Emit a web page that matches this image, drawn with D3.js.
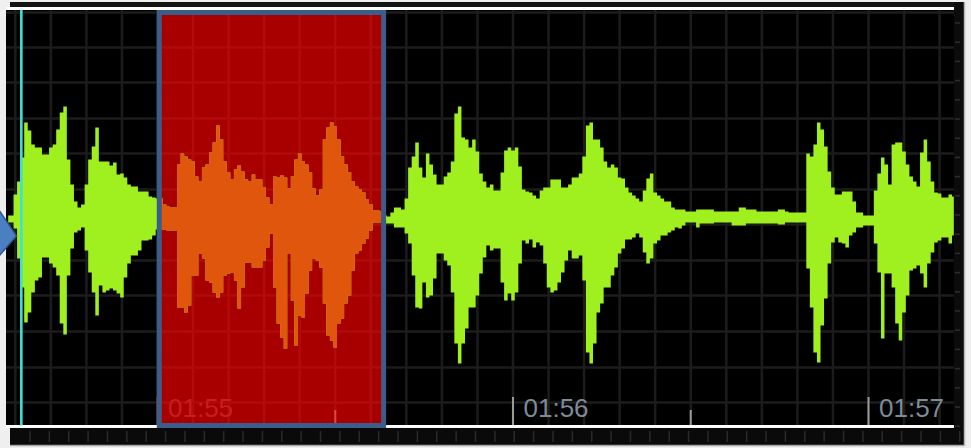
<!DOCTYPE html>
<html>
<head>
<meta charset="utf-8">
<script src="https://cdn.jsdelivr.net/npm/d3@7"></script>
<style>
  html, body { margin: 0; padding: 0; background: #efefef; overflow: hidden; }
</style>
</head>
<body>
<svg id="wave" width="971" height="448"></svg>
<script>
// waveform peaks, one pair every 10 ms starting at 01:54.58
const sampleStart = 114.58;
const sampleStep = 0.01;
const peakTop = [
  2, 2, 23, 36, 60, 95, 87, 73, 70, 70,
  63, 63, 70, 73, 88, 105, 111, 58, 33, 16,
  10, 13, 33, 58, 71, 90, 56, 56, 56, 52,
  55, 43, 44, 40, 33, 31, 31, 26, 26, 26,
  21, 20, 19, 19, 13, 11, 10, 10, 53, 64,
  61, 58, 56, 41, 36, 50, 53, 65, 75, 92,
  78, 56, 45, 38, 48, 52, 46, 38, 36, 43,
  38, 38, 30, 20, 13, 41, 40, 42, 40, 29,
  41, 58, 64, 56, 53, 45, 29, 22, 28, 78,
  90, 95, 91, 78, 61, 53, 45, 36, 31, 28,
  25, 18, 13, 7, 7, 6, 2, 1, 5, 10,
  10, 8, 19, 50, 61, 75, 50, 40, 64, 53,
  43, 33, 33, 41, 45, 56, 104, 111, 80, 78,
  70, 78, 66, 44, 36, 30, 33, 27, 27, 45,
  67, 70, 67, 70, 51, 28, 26, 25, 22, 19,
  27, 30, 30, 38, 38, 38, 30, 30, 33, 40,
  40, 44, 61, 92, 95, 78, 78, 70, 56, 50,
  53, 50, 40, 39, 30, 25, 22, 19, 16, 27,
  39, 44, 25, 22, 19, 16, 16, 10, 8, 8,
  8, 6, 6, 6, 8, 8, 8, 8, 8, 6,
  6, 6, 6, 6, 6, 6, 10, 10, 8, 8,
  8, 6, 6, 6, 6, 6, 6, 8, 8, 6,
  5, 5, 5, 5, 5, 64, 61, 73, 95, 88,
  71, 46, 30, 23, 23, 26, 26, 26, 16, 5,
  5, 2, 2, 2, 27, 44, 60, 53, 33, 73,
  75, 75, 66, 53, 41, 36, 31, 65, 78, 56,
  36, 25, 24, 20, 20, 23, 21
];
const peakBottom = [
  -5, -5, -11, -41, -70, -105, -95, -75, -63, -60,
  -40, -40, -46, -50, -58, -106, -117, -58, -31, -15,
  -13, -10, -33, -55, -75, -98, -68, -75, -73, -71,
  -73, -76, -80, -60, -46, -38, -38, -33, -23, -23,
  -22, -18, -12, -12, -12, -13, -13, -13, -90, -90,
  -95, -88, -58, -58, -36, -41, -63, -65, -75, -80,
  -75, -58, -56, -55, -63, -91, -70, -45, -45, -50,
  -50, -50, -43, -30, -16, -70, -106, -120, -131, -36,
  -83, -128, -98, -100, -76, -53, -41, -43, -50, -86,
  -118, -123, -130, -106, -101, -86, -78, -53, -36, -33,
  -26, -21, -13, -5, -5, -5, -6, -6, -6, -10,
  -10, -10, -16, -26, -58, -90, -91, -65, -80, -78,
  -61, -36, -36, -43, -48, -75, -126, -146, -126, -111,
  -90, -90, -78, -56, -40, -28, -33, -31, -31, -65,
  -83, -76, -83, -75, -46, -23, -26, -22, -30, -25,
  -28, -46, -70, -75, -73, -65, -55, -43, -33, -41,
  -41, -38, -63, -135, -146, -126, -95, -86, -70, -70,
  -58, -50, -36, -31, -22, -22, -20, -16, -20, -35,
  -46, -41, -26, -23, -18, -18, -15, -13, -10, -11,
  -8, -5, -5, -5, -10, -6, -6, -6, -6, -5,
  -5, -5, -5, -5, -8, -8, -8, -8, -6, -6,
  -6, -6, -6, -6, -6, -6, -6, -7, -7, -5,
  -5, -5, -5, -5, -5, -51, -90, -135, -145, -108,
  -81, -46, -25, -20, -25, -26, -30, -18, -15, -10,
  -10, -8, -8, -8, -26, -55, -121, -56, -56, -70,
  -106, -123, -95, -78, -53, -51, -48, -56, -70, -46,
  -35, -25, -23, -20, -20, -26, -18
];

const selection = [115.005, 115.636];
const playhead = 114.617;
const labelTimes = [115, 116, 117];
const timeLabels = ['01:55', '01:56', '01:57'];
const halfTicks = [115.5, 116.5];
const gridAmp = [205, 170, 135, 99, 64, 28, -7, -43, -78, -114, -150, -185];

const svg = d3.select('#wave');

// plot box
const boxL = 6, boxR = 954, boxT = 10, boxB = 425.5;

const x = d3.scaleLinear().domain([115, 117]).range([157.5, 868.5]);
const y = d3.scaleLinear().domain([-208, 208]).range([425.5, 9.5]);

const samples = peakTop.map((v, i) => ({ t: sampleStart + i * sampleStep, hi: v, lo: peakBottom[i] }));

const selX = x(selection[0]), selW = x(selection[1]) - x(selection[0]);

const defs = svg.append('defs');
defs.append('clipPath').attr('id', 'plotClip')
  .append('rect').attr('x', boxL).attr('y', boxT).attr('width', boxR - boxL).attr('height', boxB - boxT);
defs.append('clipPath').attr('id', 'selClip')
  .append('rect').attr('x', selX).attr('y', boxT).attr('width', selW).attr('height', boxB - boxT);

// top strip
svg.append('rect').attr('x', 10).attr('y', 2).attr('width', 952).attr('height', 6).attr('fill', '#141414');
svg.append('rect').attr('x', boxL).attr('y', 7).attr('width', boxR - boxL).attr('height', 3).attr('fill', '#ffffff');

// right strip with little ticks
svg.append('rect').attr('x', boxR).attr('y', 2).attr('width', 10).attr('height', 444).attr('fill', '#0c0c0c');
svg.append('line').attr('x1', 964.5).attr('x2', 964.5).attr('y1', 2).attr('y2', 446)
  .attr('stroke', '#b8b8b8').attr('stroke-width', 1.5);
svg.append('g').selectAll('line')
  .data(d3.range(23, 445, 19.2))
  .enter().append('line')
  .attr('x1', boxR + 1).attr('x2', boxR + 6)
  .attr('y1', d => d).attr('y2', d => d)
  .attr('stroke', '#2e2e2e').attr('stroke-width', 1.5);

// bottom strip with little ticks
svg.append('rect').attr('x', 10).attr('y', 428).attr('width', 952).attr('height', 17).attr('fill', '#0a0a0a');
svg.append('line').attr('x1', 10).attr('x2', 964).attr('y1', 445.5).attr('y2', 445.5)
  .attr('stroke', '#a8a8a8').attr('stroke-width', 1.5);
svg.append('g').selectAll('line')
  .data(d3.range(30, 960, 19.37))
  .enter().append('line')
  .attr('x1', d => d).attr('x2', d => d)
  .attr('y1', 431).attr('y2', 442)
  .attr('stroke', '#2a2a2a').attr('stroke-width', 1.5);

// plot background
svg.append('rect').attr('x', boxL).attr('y', boxT).attr('width', boxR - boxL).attr('height', boxB - boxT)
  .attr('fill', '#000');

const plot = svg.append('g').attr('clip-path', 'url(#plotClip)');

function drawGrid(g, color) {
  g.selectAll('.vg')
    .data(d3.range(114.6, 117.25, 0.1))
    .enter().append('line')
    .attr('x1', d => x(d)).attr('x2', d => x(d))
    .attr('y1', boxT).attr('y2', boxB)
    .attr('stroke', color).attr('stroke-width', 2.5);
  g.selectAll('.hg')
    .data(gridAmp)
    .enter().append('line')
    .attr('x1', boxL).attr('x2', boxR)
    .attr('y1', d => y(d)).attr('y2', d => y(d))
    .attr('stroke', color).attr('stroke-width', 2.5);
}

drawGrid(plot.append('g'), '#1c1c1c');

// selected region
plot.append('rect')
  .attr('x', selX).attr('y', boxT).attr('width', selW).attr('height', boxB - boxT)
  .attr('fill', '#a80000');
drawGrid(plot.append('g').attr('clip-path', 'url(#selClip)'), '#b20b0b');

// tick marks and time labels
plot.selectAll('.major')
  .data(labelTimes)
  .enter().append('line')
  .attr('x1', d => x(d)).attr('x2', d => x(d))
  .attr('y1', 397).attr('y2', boxB)
  .attr('stroke', (d, i) => i === 0 ? '#c43030' : '#9a9a9a').attr('stroke-width', 2);
plot.selectAll('.half')
  .data(halfTicks)
  .enter().append('line')
  .attr('x1', d => x(d)).attr('x2', d => x(d))
  .attr('y1', 410).attr('y2', boxB)
  .attr('stroke', (d, i) => i === 0 ? '#d84848' : '#9a9a9a').attr('stroke-width', 2);
plot.selectAll('.lbl')
  .data(labelTimes)
  .enter().append('text')
  .attr('x', d => x(d) + 10.5)
  .attr('y', 417)
  .text((d, i) => timeLabels[i])
  .style('font-family', '"Liberation Sans", Arial, sans-serif')
  .style('font-size', '26px')
  .style('fill', (d, i) => i === 0 ? '#c81e1e' : '#7e8b98');

// waveform
const area = d3.area()
  .x(d => x(d.t))
  .y0(d => y(d.lo))
  .y1(d => y(d.hi))
  .curve(d3.curveStep);

plot.append('path').datum(samples).attr('d', area).attr('fill', '#a0ef1e');
plot.append('path').datum(samples).attr('d', area).attr('fill', '#e0560c')
  .attr('clip-path', 'url(#selClip)');

// bottom white line
svg.append('line').attr('x1', boxL).attr('x2', boxR).attr('y1', 426.3).attr('y2', 426.3)
  .attr('stroke', '#ffffff').attr('stroke-width', 2.5);

// selection border
svg.append('rect')
  .attr('x', selX).attr('y', 12.5).attr('width', selW).attr('height', 413)
  .attr('fill', 'none')
  .attr('stroke', '#3a5d8a').attr('stroke-width', 5);

// playhead
svg.append('line')
  .attr('x1', x(playhead)).attr('x2', x(playhead))
  .attr('y1', boxT).attr('y2', boxB)
  .attr('stroke', '#3fe0d2').attr('stroke-width', 2.6);

// left marker
svg.append('rect').attr('x', 0).attr('y', 0).attr('width', boxL).attr('height', 448).attr('fill', '#efefef');
svg.append('path')
  .attr('d', 'M-1,210 L16.5,236 L-1,256 Z')
  .attr('fill', '#4a7fc2').attr('stroke', '#2d5690').attr('stroke-width', 1.5);
</script>
</body>
</html>
